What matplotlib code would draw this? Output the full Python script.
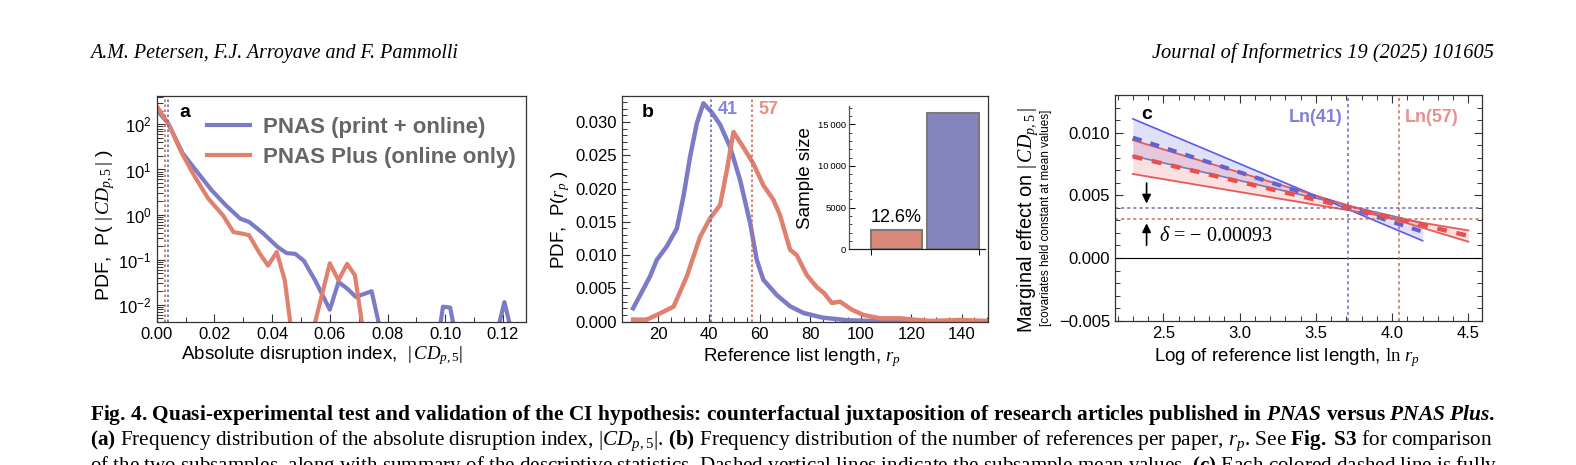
import numpy as np
import matplotlib
matplotlib.use('Agg')
import matplotlib.pyplot as plt
from matplotlib.ticker import MultipleLocator, FormatStrFormatter, FuncFormatter

# ---------------- data ----------------
# panel a: PDF of |CD_p,5| (0.001 = empty bin, drawn below the axis floor)
cd_x_pnas = [0.000, 0.004, 0.009, 0.014, 0.019, 0.024, 0.029, 0.032, 0.037, 0.042,
             0.045, 0.048, 0.051, 0.055, 0.060, 0.063, 0.066, 0.069, 0.0745, 0.079,
             0.097, 0.0992, 0.1017, 0.1045, 0.1165, 0.1205, 0.1245, 0.128]
cd_y_pnas = [210, 105, 23, 8.9, 3.5, 1.6, 0.81, 0.69, 0.38, 0.19,
             0.14, 0.135, 0.095, 0.034, 0.0078, 0.032, 0.023, 0.015, 0.020, 0.001,
             0.001, 0.0091, 0.0087, 0.001, 0.001, 0.0115, 0.001, 0.001]
cd_x_plus = [0.000, 0.004, 0.0085, 0.0126, 0.0178, 0.023, 0.0266, 0.0295, 0.032, 0.0358,
             0.0386, 0.0416, 0.0444, 0.0475, 0.0525, 0.060, 0.063, 0.066, 0.0687, 0.0725]
cd_y_plus = [256, 105, 24.5, 8.1, 2.3, 0.96, 0.41, 0.38, 0.35, 0.135,
             0.074, 0.148, 0.035, 0.001, 0.001, 0.083, 0.035, 0.081, 0.045, 0.001]
cd_mean_pnas = 0.0038
cd_mean_plus = 0.0029

# panel b: PDF of reference list length
r_x_pnas = [10, 13.5, 16.7, 19.4, 23.3, 27.3, 30, 32.5, 35.2, 37.8, 41, 44.4, 48.4,
            52.3, 56.3, 58.9, 61.5, 66.8, 72.1, 77.4, 85, 95, 110, 130, 150]
r_y_pnas = [0.0020, 0.0045, 0.0068, 0.0093, 0.0113, 0.0140, 0.0190, 0.0247, 0.0298,
            0.0328, 0.0315, 0.0296, 0.0262, 0.0213, 0.0148, 0.0093, 0.0063, 0.0040,
            0.0023, 0.0013, 0.0006, 0.0002, 0.00005, 0.00002, 0.0]
r_x_plus = [10, 15.4, 20.7, 26, 31.2, 36.5, 40.4, 44.4, 47.1, 49.7, 53.6, 57.6, 61.5,
            65.5, 68.1, 72.1, 74.7, 78.7, 82.6, 85.5, 88.6, 91.9, 96.5, 101.1, 107.7,
            115.6, 120.9, 127.5, 139.3, 150]
r_y_plus = [0.0003, 0.0003, 0.00125, 0.00225, 0.00675, 0.01275, 0.0155, 0.0175, 0.0228,
            0.0285, 0.0262, 0.0237, 0.0205, 0.0183, 0.0160, 0.0108, 0.0100, 0.0070,
            0.0052, 0.0043, 0.0028, 0.0030, 0.0018, 0.0010, 0.0005, 0.0005, 0.0003,
            0.0001, 0.00025, 0.0001]
r_mean_pnas = 41
r_mean_plus = 57

# inset: sample sizes
sample_groups = ['PNAS Plus', 'PNAS']
sample_sizes = [2365, 16400]

# panel c: marginal effects (linear, endpoints) with 95% bands
me_x_pnas = [2.3, 4.2]
me_mid_pnas = [0.0096, 0.0021]
me_b1_pnas = [0.0111, 0.00138]
me_b2_pnas = [0.00815, 0.0028]
me_x_plus = [2.3, 4.5]
me_mid_plus = [0.0081, 0.00177]
me_b1_plus = [0.0094, 0.0013]
me_b2_plus = [0.0067, 0.0022]
me_at_mean_pnas = 0.00402
me_at_mean_plus = 0.00309
delta = -0.00093

# ---------------- style ----------------
plt.rcParams['font.family'] = ['Liberation Sans', 'DejaVu Sans']
plt.rcParams['mathtext.fontset'] = 'custom'
plt.rcParams['mathtext.rm'] = 'Liberation Serif'
plt.rcParams['mathtext.it'] = 'Liberation Serif:italic'
plt.rcParams['mathtext.bf'] = 'Liberation Serif:bold'
plt.rcParams['mathtext.bfit'] = 'Liberation Serif:italic:bold'
plt.rcParams['axes.edgecolor'] = '#333333'
plt.rcParams['axes.linewidth'] = 0.9

BLUE = '#7B7BC6'
RED = '#E0806E'
BLUE_DOT = '#6A6AB8'
RED_DOT = '#CC6A58'
serif = ['Liberation Serif', 'DejaVu Serif']

fig = plt.figure(figsize=(15.76, 4.65), dpi=100)


def style_ticks(ax, size=12):
    ax.tick_params(which='both', direction='in', labelsize=size, color='#333333')
    ax.tick_params(which='major', length=6, width=0.8)
    ax.tick_params(which='minor', length=3.5, width=0.7)


# ---------------- panel a ----------------
axa = fig.add_axes([0.0994, 0.3069, 0.2344, 0.4866])
axa.plot(cd_x_pnas, cd_y_pnas, color=BLUE, lw=3, label='PNAS (print + online)')
axa.plot(cd_x_plus, cd_y_plus, color=RED, lw=3, label='PNAS Plus (online only)')
axa.axvline(cd_mean_plus, color=RED_DOT, lw=1.2, ls=(0, (1.5, 1.5)))
axa.axvline(cd_mean_pnas, color=BLUE_DOT, lw=1.2, ls=(0, (1.5, 1.5)))
axa.set_yscale('log')
axa.set_xlim(0, 0.128)
axa.set_ylim(0.0041, 425)
axa.xaxis.set_major_locator(MultipleLocator(0.02))
axa.xaxis.set_minor_locator(MultipleLocator(0.01))
axa.xaxis.set_major_formatter(FormatStrFormatter('%.2f'))
style_ticks(axa)
axa.tick_params(axis='y', which='minor', length=4.5)
axa.set_xlabel(r'Absolute disruption index,  $|\,CD_{p,5}|$', fontsize=13.6)
axa.xaxis.set_label_coords(0.448, -0.095)
axa.set_ylabel(r'PDF,  P( $|\,CD_{p,5}\,|$ )', fontsize=14)
axa.yaxis.set_label_coords(-0.107, 0.43)
axa.text(0.077, 0.929, 'a', transform=axa.transAxes, fontsize=14, fontweight='bold',
         ha='center', va='center')
axa.legend(loc='upper left', bbox_to_anchor=(0.135, 0.908), frameon=False,
           prop=dict(weight='bold', size=16), labelcolor='#666666',
           handlelength=1.95, handletextpad=0.6, labelspacing=0.4,
           borderpad=0, borderaxespad=0)

# ---------------- panel b ----------------
axb = fig.add_axes([0.3945, 0.3069, 0.2326, 0.4866])
axb.plot(r_x_pnas, r_y_pnas, color=BLUE, lw=3.2)
axb.plot(r_x_plus, r_y_plus, color=RED, lw=3.2)
axb.axvline(r_mean_pnas, color=BLUE_DOT, lw=1.2, ls=(0, (1.5, 1.5)))
axb.axvline(r_mean_plus, color=RED_DOT, lw=1.2, ls=(0, (1.5, 1.5)))
axb.set_xlim(5.5, 150.5)
axb.set_ylim(-0.0001, 0.0339)
axb.xaxis.set_major_locator(MultipleLocator(20))
axb.xaxis.set_minor_locator(MultipleLocator(5))
axb.yaxis.set_major_locator(MultipleLocator(0.005))
axb.yaxis.set_minor_locator(MultipleLocator(0.001))
axb.yaxis.set_major_formatter(FormatStrFormatter('%.3f'))
style_ticks(axb)
axb.set_xlabel(r'Reference list length, $r_p$', fontsize=13.6)
axb.xaxis.set_label_coords(0.492, -0.105)
axb.set_ylabel(r'PDF,  P($r_p$ )', fontsize=13.5)
axb.yaxis.set_label_coords(-0.136, 0.452)
axb.text(0.072, 0.929, 'b', transform=axb.transAxes, fontsize=14, fontweight='bold',
         ha='center', va='center')
axb.text(r_mean_pnas + 2.5, 0.0318, str(r_mean_pnas), color='#8585DD', fontsize=13,
         fontweight='bold', ha='left', va='center')
axb.text(r_mean_plus + 2.5, 0.0318, str(r_mean_plus), color='#E8907E', fontsize=13,
         fontweight='bold', ha='left', va='center')

# inset: sample size
axi = fig.add_axes([0.5387, 0.4639, 0.0863, 0.3082])
axi.bar([0, 1], sample_sizes, width=0.91, color=['#DB8878', '#8585BD'],
        edgecolor='#7a7a7a', lw=1.5)
axi.set_xlim(-0.84, 1.56)
axi.set_ylim(0, 17200)
for s in ['top', 'right']:
    axi.spines[s].set_visible(False)
axi.spines['left'].set_color('#555555')
axi.spines['bottom'].set_color('#222222')
axi.set_yticks([0, 5000, 10000, 15000])
axi.set_yticklabels(['0', '5000', '10\u2009000', '15\u2009000'])
axi.yaxis.set_minor_locator(MultipleLocator(1000))
axi.tick_params(axis='y', which='both', direction='in', labelsize=6.8, pad=2)
axi.tick_params(axis='y', which='major', length=4, width=0.7)
axi.tick_params(axis='y', which='minor', length=2, width=0.5)
axi.set_xticks([-0.455, 1.455])
axi.set_xticklabels([])
axi.tick_params(axis='x', direction='out', length=4, width=0.7)
axi.set_ylabel('Sample size', fontsize=13.5, labelpad=3)
share = sample_sizes[0] / sum(sample_sizes) * 100
axi.text(0, 3790, f'{share:.1f}%', fontsize=13, ha='center', va='center')

# ---------------- panel c ----------------
axc = fig.add_axes([0.7075, 0.3097, 0.2331, 0.4860])
axc.fill_between(me_x_pnas, me_b1_pnas, me_b2_pnas, color='#9B9BE6', alpha=0.3, lw=0)
axc.fill_between(me_x_plus, me_b1_plus, me_b2_plus, color='#F09090', alpha=0.28, lw=0)
axc.plot(me_x_pnas, me_b1_pnas, color='#5B5BE6', lw=1.2)
axc.plot(me_x_pnas, me_b2_pnas, color='#7A7AB8', lw=1.2)
axc.plot(me_x_plus, me_b1_plus, color='#E85A5A', lw=1.3)
axc.plot(me_x_plus, me_b2_plus, color='#E85A5A', lw=1.3)
axc.plot(me_x_pnas, me_mid_pnas, color='#6262D0', lw=3, ls=(0, (2.2, 2.2)))
axc.plot(me_x_plus, me_mid_plus, color='#E85050', lw=3.2, ls=(0, (2.2, 2.2)))
axc.axhline(0, color='black', lw=0.8)
axc.axhline(me_at_mean_pnas, color=BLUE_DOT, lw=1.1, ls=(0, (2, 2)))
axc.axhline(me_at_mean_plus, color=RED_DOT, lw=1.1, ls=(0, (2, 2)))
axc.axvline(np.log(r_mean_pnas), color=BLUE_DOT, lw=1.1, ls=(0, (2, 2)))
axc.axvline(np.log(r_mean_plus), color=RED_DOT, lw=1.1, ls=(0, (2, 2)))
axc.annotate('', xy=(2.39, me_at_mean_pnas + 0.0001), xytext=(2.39, 0.0062),
             arrowprops=dict(arrowstyle='-|>', color='black', lw=1.2, mutation_scale=13))
axc.annotate('', xy=(2.39, me_at_mean_plus - 0.0001), xytext=(2.39, 0.0008),
             arrowprops=dict(arrowstyle='-|>', color='black', lw=1.2, mutation_scale=13))
axc.text(2.47, 0.0017, '$\\delta$ = \u2212 %.5f' % abs(delta), family=serif,
         fontsize=14.5, ha='left', va='center')
axc.text(np.log(r_mean_pnas) - 0.04, 0.0112, 'Ln(%d)' % r_mean_pnas, color='#8080DD',
         fontsize=13, fontweight='bold', ha='right', va='center')
axc.text(np.log(r_mean_plus) + 0.04, 0.0112, 'Ln(%d)' % r_mean_plus, color='#E89090',
         fontsize=13, fontweight='bold', ha='left', va='center')
axc.text(0.086, 0.915, 'c', transform=axc.transAxes, fontsize=14, fontweight='bold',
         ha='center', va='center')
axc.set_xlim(2.183, 4.592)
axc.set_ylim(-0.00502, 0.013)
axc.xaxis.set_major_locator(MultipleLocator(0.5))
axc.xaxis.set_minor_locator(MultipleLocator(0.1))
axc.yaxis.set_major_locator(MultipleLocator(0.005))
axc.yaxis.set_minor_locator(MultipleLocator(0.001))
axc.yaxis.set_major_formatter(FuncFormatter(lambda v, p: ('%.3f' % v).replace('-', '\u2212')))
axc.xaxis.set_major_formatter(FormatStrFormatter('%.1f'))
style_ticks(axc)
axc.tick_params(which='both', top=True, right=True)
axc.set_xlabel(r'Log of reference list length, $\ln\, r_p$', fontsize=13.5)
axc.xaxis.set_label_coords(0.467, -0.112)
fig.text(1028 / 1576, 1 - 220 / 465, r'Marginal effect on $|\,CD_{p,5}\,|$',
         rotation=90, fontsize=14.4, ha='center', va='center')
fig.text(1046 / 1576, 1 - 218 / 465, '[covariates held constant at mean values]',
         rotation=90, fontsize=8.5, ha='center', va='center')

# ---------------- page header and caption ----------------
renderer = fig.canvas.get_renderer()


def fit_width(txt, width_px):
    bb = txt.get_window_extent(renderer)
    txt.set_fontsize(txt.get_fontsize() * width_px / bb.width)


h1 = fig.text(90 / 1576, 1 - 58 / 465, 'A.M. Petersen, F.J. Arroyave and F. Pammolli',
              family=serif, style='italic', fontsize=13, ha='left', va='baseline')
h2 = fig.text(1494 / 1576, 1 - 58 / 465, 'Journal of Informetrics 19 (2025) 101605',
              family=serif, style='italic', fontsize=13, ha='right', va='baseline')
fit_width(h1, 367)
fit_width(h2, 341)

cap_lines = [
    r'Fig. 4. Quasi-experimental test and validation of the CI hypothesis: counterfactual '
    r'juxtaposition of research articles published in $\mathbfit{PNAS}$ versus '
    r'$\mathbfit{PNAS\ Plus}$.',
    r'$\mathbf{(a)}$ Frequency distribution of the absolute disruption index, $|CD_{p,5}|$. '
    r'$\mathbf{(b)}$ Frequency distribution of the number of references per paper, $r_p$. '
    r'See $\mathbf{Fig.\ S3}$ for comparison',
    r'of the two subsamples, along with summary of the descriptive statistics. Dashed '
    r'vertical lines indicate the subsample mean values. $\mathbf{(c)}$ Each colored dashed line is fully',
]
cap_base = [420, 445, 471]
for i, (line, yb) in enumerate(zip(cap_lines, cap_base)):
    t = fig.text(90 / 1576, 1 - yb / 465, line, family=serif, fontsize=13,
                 fontweight='bold' if i == 0 else 'normal', ha='left', va='baseline')
    fit_width(t, 1404)

fig.savefig('out.png', dpi=100)
